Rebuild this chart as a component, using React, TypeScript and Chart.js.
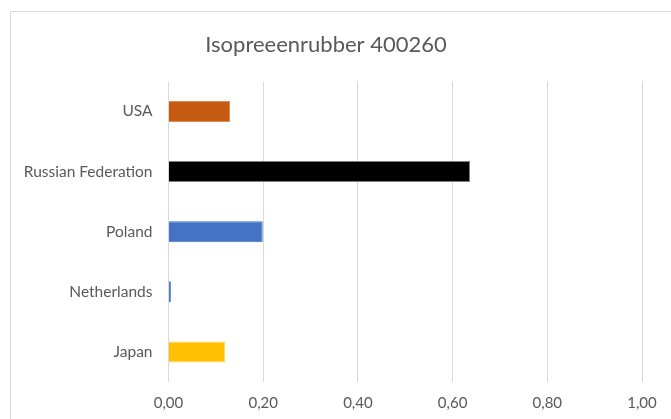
import React, { useEffect, useRef } from "react";
import { Chart, registerables } from "chart.js";

Chart.register(...registerables);

const categories = ["USA", "Russian Federation", "Poland", "Netherlands", "Japan"];
const values = [0.13, 0.637, 0.199, 0.005, 0.12];
const barColors = ["#C55A11", "#000000", "#4472C4", "#4472C4", "#FFC000"];
const barBorders = ["#E08A55", "#7F7F7F", "#4472C4", "#4472C4", "#FFD966"];
const titleText = "Isopreeenrubber 400260";
const xMin = 0;
const xMax = 1;
const xStep = 0.2;

export default function App() {
  const ref = useRef<HTMLCanvasElement | null>(null);

  useEffect(() => {
    if (!ref.current) return;
    const font = "Lato, 'Open Sans', sans-serif";
    const chart = new Chart(ref.current, {
      type: "bar",
      data: {
        labels: categories,
        datasets: [
          {
            data: values,
            backgroundColor: barColors,
            borderColor: barBorders,
            borderWidth: 1,
            categoryPercentage: 0.7,
            barPercentage: 0.5,
          },
        ],
      },
      options: {
        indexAxis: "y",
        animation: false,
        responsive: false,
        maintainAspectRatio: false,
        layout: { padding: { left: 0, right: 35, top: 0, bottom: 0 } },
        plugins: {
          legend: { display: false },
          tooltip: { enabled: false },
          title: {
            display: true,
            text: titleText,
            color: "#595959",
            font: { family: font, size: 22, weight: "normal" },
            padding: { top: 32, bottom: 23 },
          },
        },
        scales: {
          x: {
            min: xMin,
            max: xMax,
            ticks: {
              stepSize: xStep,
              color: "#595959",
              font: { family: font, size: 15 },
              padding: 12,
              callback: (v: any) => Number(v).toFixed(2).replace(".", ","),
            },
            grid: { color: "#D9D9D9", lineWidth: 1, drawTicks: false },
            border: { display: false },
            afterFit: (s: any) => {
              s.height = 37;
            },
          },
          y: {
            ticks: {
              color: "#595959",
              font: { family: font, size: 15.5 },
              padding: 16,
            },
            grid: { display: false, drawTicks: false },
            border: { display: false },
            afterFit: (s: any) => {
              s.width = 158.5;
            },
          },
        },
      },
    });
    return () => chart.destroy();
  }, []);

  return (
    <div
      style={{
        position: "fixed",
        left: 0,
        top: 0,
        width: 671,
        height: 419,
        overflow: "hidden",
        background: "#ffffff",
      }}
    >
      <div
        style={{
          position: "absolute",
          left: 10,
          top: 11,
          width: 700,
          height: 440,
          border: "1px solid #D9D9D9",
        }}
      />
      <canvas
        ref={ref}
        width={667}
        height={419}
        style={{ position: "absolute", left: 10, top: 0, width: 667, height: 419 }}
      />
    </div>
  );
}
